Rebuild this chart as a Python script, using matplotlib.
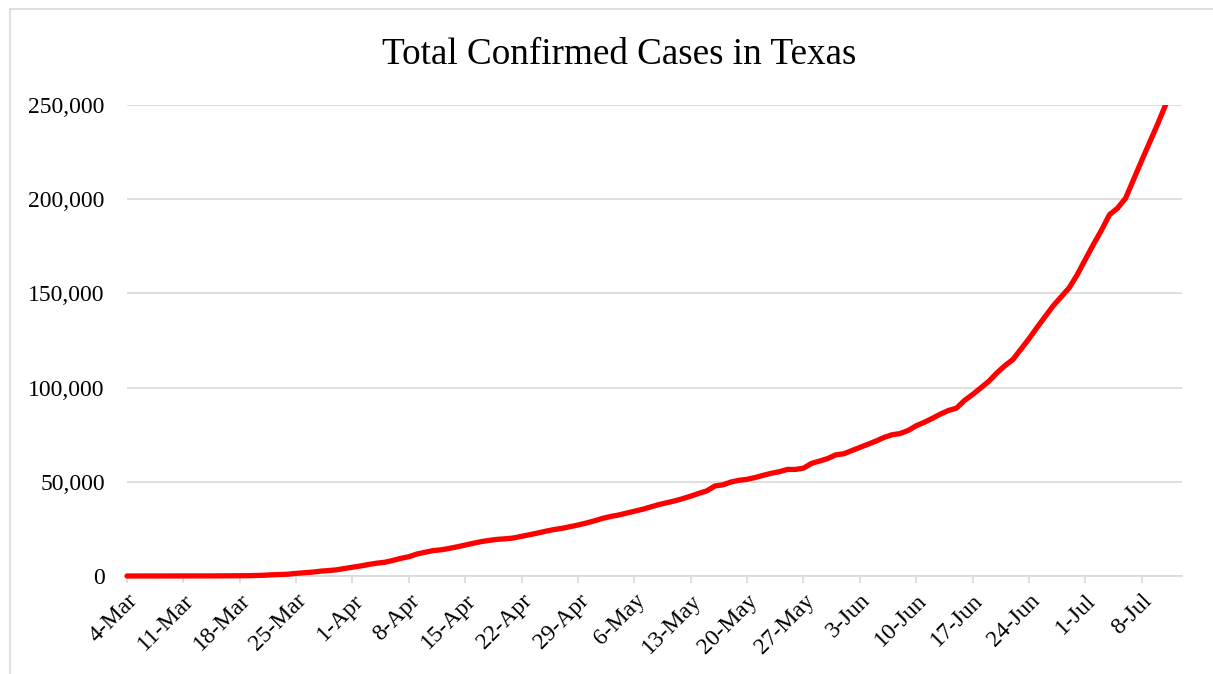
import matplotlib
matplotlib.use("Agg")
import matplotlib.pyplot as plt
import numpy as np
from matplotlib.lines import Line2D
from matplotlib.patches import Rectangle

# Texas cumulative confirmed cases, daily from 4-Mar to 13-Jul
march = [1, 1, 3, 5, 8, 11, 12, 13, 21, 27, 39, 57, 72, 85, 110, 173, 260, 394,
         643, 758, 974, 1396, 1731, 2052, 2552, 2877, 3266, 3997]
april = [4669, 5330, 6110, 6812, 7276, 8262, 9353, 10230, 11671, 12561, 13484,
         13906, 14624, 15492, 16455, 17371, 18260, 18923, 19458, 19751, 20196,
         21069, 21944, 22806, 23773, 24631, 25297, 26171, 27054, 28087]
may = [29229, 30522, 31548, 32332, 33369, 34422, 35390, 36609, 37860, 38869,
       39869, 41048, 42403, 43851, 45198, 47784, 48396, 49912, 50801, 51323,
       52268, 53449, 54509, 55348, 56560, 56560, 57230, 59776, 61006, 62338, 64287]
june = [64880, 66568, 68271, 69920, 71613, 73552, 74978, 75616, 77253, 79757,
        81583, 83680, 85937, 87854, 89108, 93206, 96335, 99851, 103305, 107735,
        111601, 114881, 120370, 125921, 131917, 137624, 143371, 148192, 153011, 159986]
july = [168062, 175977, 183532, 191790, 195239, 200557, 210585, 220564, 230346,
        240111, 250462, 258658, 264313]

cases = march + april + may + june + july
days = np.arange(len(cases))

tick_labels = ['4-Mar', '11-Mar', '18-Mar', '25-Mar', '1-Apr', '8-Apr', '15-Apr',
               '22-Apr', '29-Apr', '6-May', '13-May', '20-May', '27-May', '3-Jun',
               '10-Jun', '17-Jun', '24-Jun', '1-Jul', '8-Jul']
y_ticks = [0, 50000, 100000, 150000, 200000, 250000]

plt.rcParams['font.family'] = ['Liberation Serif', 'DejaVu Serif']

W, H = 1213, 674
fig = plt.figure(figsize=(W / 100, H / 100), dpi=100)
ax = fig.add_axes([127 / W, 1 - 576 / H, (1182 - 127) / W, (576 - 105) / H])

line, = ax.plot(days, cases, color='#ff0000', lw=3.8, zorder=3,
                solid_capstyle='round', solid_joinstyle='round')
# clip only at the top, like the original
clip = Rectangle((-0.05, -0.1), 1.1, 1.1, transform=ax.transAxes)
line.set_clip_path(clip)

ax.set_xlim(0, len(cases) - 1)
ax.set_ylim(0, 250000)

ax.set_yticks(y_ticks)
ax.set_yticklabels([f'{v:,}' for v in y_ticks])
ax.set_xticks(np.arange(0, 7 * len(tick_labels), 7))
ax.set_xticklabels(tick_labels, rotation=45, ha='right', va='top',
                   rotation_mode='anchor')

ax.tick_params(axis='y', length=0, pad=16, labelsize=17, labelcolor='#000000')
ax.tick_params(axis='x', length=5, width=1.2, color='#d9d9d9', pad=5,
               labelsize=17, labelcolor='#000000')

ax.grid(axis='y', color='#d9d9d9', lw=1.2)
ax.set_axisbelow(True)
for s in ['top', 'right', 'left']:
    ax.spines[s].set_visible(False)
ax.spines['bottom'].set_color('#d9d9d9')
ax.spines['bottom'].set_linewidth(1.2)

fig.text(619 / W, 1 - 64 / H, 'Total Confirmed Cases in Texas', fontsize=26.7,
         ha='center', va='baseline')

# chart area border (left and top visible)
fig.add_artist(Line2D([10 / W, 10 / W], [0, 1 - 9 / H], color='#d9d9d9', lw=1.2))
fig.add_artist(Line2D([10 / W, 1], [1 - 9 / H, 1 - 9 / H], color='#d9d9d9', lw=1.2))

fig.savefig('out.png', dpi=100)
